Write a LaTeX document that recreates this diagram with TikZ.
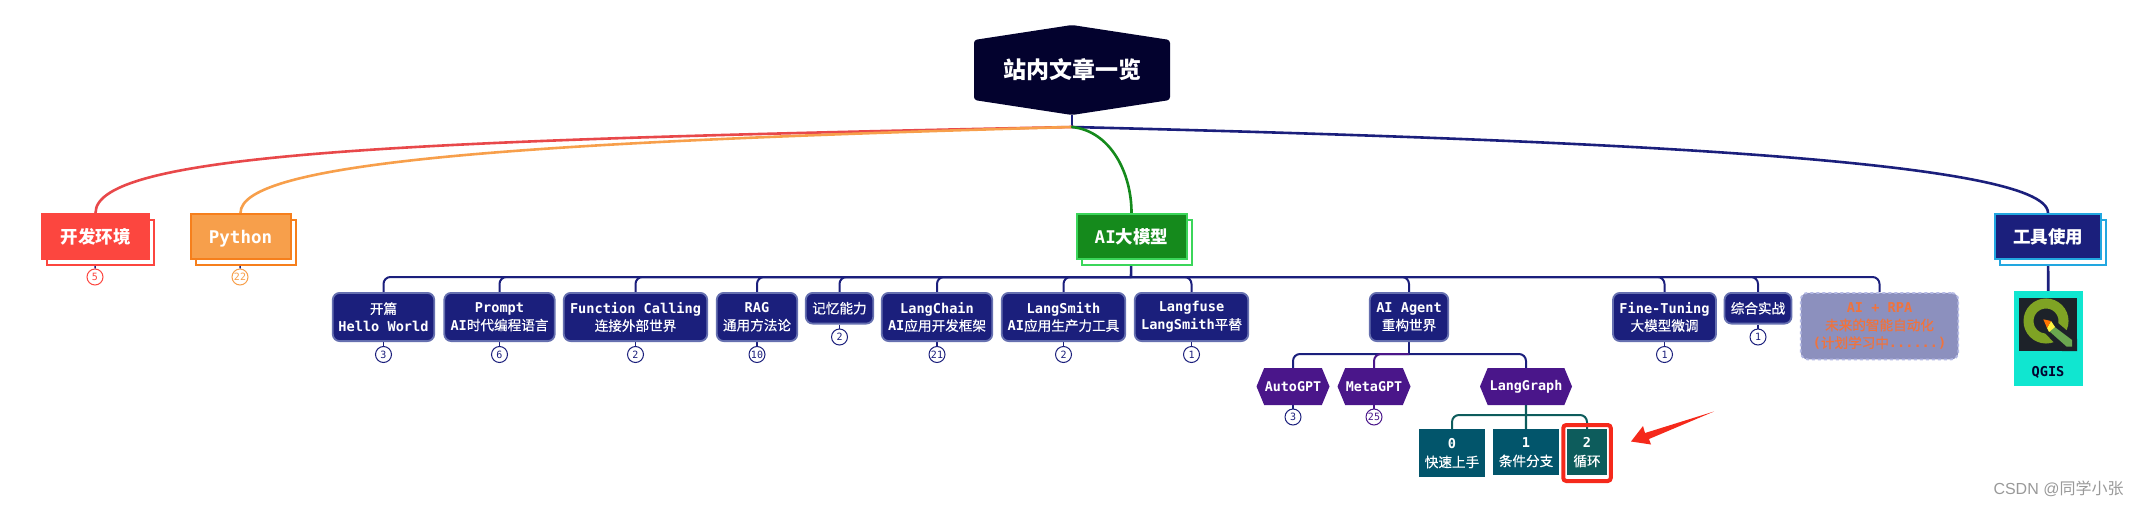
\documentclass[tikz,border=0pt]{standalone}
\usepackage{fontspec}
\setmainfont{DejaVu Sans Mono}
\newfontfamily\cjk{Noto Sans CJK SC}
\newfontfamily\cjkmid{Noto Sans CJK SC}[FakeBold=0.5]
\newfontfamily\marksans{Liberation Sans}
\usepackage{tikz}
\usetikzlibrary{
  positioning,
  shadows,
  backgrounds,
  shapes.symbols
}
\newcommand{\zh}[1]{{\cjkmid\mdseries #1}}
\newcommand{\zhb}[1]{{\cjk\bfseries #1}}

\definecolor{rootink}{HTML}{03022E}
\definecolor{navy}{HTML}{1B1F7C}
\definecolor{navyedge}{HTML}{6670B0}
\definecolor{hotred}{HTML}{FC463F}
\definecolor{curvered}{HTML}{E8484A}
\definecolor{ripe}{HTML}{F79F4B}
\definecolor{ripeedge}{HTML}{F67F1C}
\definecolor{leaf}{HTML}{158A1C}
\definecolor{leafedge}{HTML}{3BD65A}
\definecolor{sky}{HTML}{22A7E0}
\definecolor{purplish}{HTML}{4A168A}
\definecolor{tealbox}{HTML}{02556B}
\definecolor{tealline}{HTML}{0D5C5C}
\definecolor{qgisbg}{HTML}{10E6D0}
\definecolor{alarm}{HTML}{F5291B}
\definecolor{planfill}{HTML}{8C90BE}
\definecolor{planedge}{HTML}{B4B9E4}
\definecolor{planink}{HTML}{F0733C}
\definecolor{qgisdark}{HTML}{1D2229}
\definecolor{qgisring}{HTML}{7FA324}
\definecolor{qgispen}{HTML}{6BA84F}

\tikzset{
  topic/.style n args={3}{
    minimum width=#1, minimum height=45pt, inner sep=0pt, text=white,
    text height=15pt, text depth=2pt,
    font=\fontsize{17.5}{20}\selectfont\bfseries, fill=#2, draw=#3, line width=2pt,
    copy shadow={shadow xshift=5pt, shadow yshift=-6pt, fill=white, draw=#3, line width=2pt}
  },
  subject/.style={
    anchor=north, inner sep=0pt, align=center, text=white,
    font=\fontsize{13.6}{17.7}\selectfont\bfseries,
    fill=navy, draw=navyedge, line width=1.8pt, rounded corners=7pt
  },
  badge/.style={
    circle, minimum size=16pt, inner sep=0pt, fill=white, draw=#1, line width=1pt,
    text=#1, font=\fontsize{10}{10}\selectfont
  },
  badge/.default=navy,
  hexa/.style={
    signal, signal to=west and east, signal pointer angle=135, inner sep=0pt,
    minimum height=37pt, text=white, fill=purplish,
    font=\fontsize{13.4}{16}\selectfont\bfseries
  },
  leafbox/.style={
    anchor=north, inner sep=0pt, align=center, text=white, fill=tealbox,
    font=\fontsize{13.6}{19}\selectfont\bfseries
  },
  trunk/.style={line width=2.6pt, line cap=round},
  twig/.style={draw=navy, line width=2pt, rounded corners=7pt},
  stem/.style={draw=navy, line width=1.5pt}
}

\begin{document}
\begin{tikzpicture}[x=1pt,y=-1pt]
  \useasboundingbox (0,0) rectangle (2143,508);

  % root
  \fill[rootink, rounded corners=3pt] (1072,25) -- (1170,40) -- (1170,100) -- (1072,115)
  -- (974,100) -- (974,40) -- cycle;
  \node[minimum width=196pt, minimum height=90pt, inner sep=0pt, text=white] (root) at (1072,70)
  {\fontsize{23}{26}\selectfont\zhb{站内文章一览}};
  \coordinate (hub) at (1072,127);

  % main topics
  \node[topic={107pt}{hotred}{hotred}] (env) at (95.5,236.5) {\zhb{开发环境}};
  \node[topic={100pt}{ripe}{ripeedge}] (py) at (240.5,236.5) {Python};
  \node[topic={110pt}{leaf}{leafedge}] (ai) at (1131.5,236.5) {AI\zhb{大模型}};
  \node[topic={106pt}{navy}{sky}] (tools) at (2048,236.5) {\zhb{工具使用}};

  \node[badge=hotred] (benv) at (95,277) {5};
  \node[badge=ripe] (bpy) at (240,277) {22};
  \coordinate (bus) at (1131,277);

  % subjects with a count under them
  \foreach \nm/\x/\w/\h/\cnt/\txt in {
      open/383.5/101.5/48.2/3/{\zh{开篇}\\Hello World},
      prompt/499.5/110.5/48.2/6/{Prompt\\AI\zh{时代编程语言}},
      func/635.5/143.5/48.2/2/{Function Calling\\\zh{连接外部世界}},
      rag/757/80.5/48.2/10/{RAG\\\zh{通用方法论}},
      memo/839.5/67.5/30.7/2/{\zh{记忆能力}},
      chain/937/110.5/48.2/21/{LangChain\\AI\zh{应用开发框架}},
      smith/1063.5/123.5/48.2/2/{LangSmith\\AI\zh{应用生产力工具}},
      fuse/1191.5/113.5/48.2/1/{Langfuse\\LangSmith\zh{平替}},
      agent/1409/78.5/48.2/0/{AI Agent\\\zh{重构世界}},
      tune/1664.5/103/48.2/1/{Fine-Tuning\\\zh{大模型微调}},
      war/1758/67/30.7/1/{\zh{综合实战}}} {
      \node[subject, minimum width=\w pt, minimum height=\h pt] (\nm) at (\x,292) {\txt};
      \ifnum\cnt>0
        \node[badge, below=4pt of \nm] (b\nm) {\cnt};
        \begin{scope}[on background layer]
          \draw[stem] (\nm) -- (b\nm);
        \end{scope}
      \fi
    }
  \node[subject, minimum width=157.5pt, minimum height=66.5pt, fill=planfill, draw=planedge, dashed,
    text=planink] (rpa) at (1879.5,292) {AI + RPA\\\zh{未来的智能自动化}\\(\zh{计划学习中}......)};

  % agent's children
  \coordinate (agentbus) at (1409,354);
  \foreach \nm/\x/\w/\txt in {auto/1293/73/AutoGPT, meta/1374/73/MetaGPT, graph/1526/92/LangGraph} {
      \node[hexa, minimum width=\w pt] (\nm) at (\x,386.5) {\txt};
    }
  \node[badge] (bauto) at (1293,417) {3};
  \node[badge=purplish] (bmeta) at (1374,417) {25};

  % LangGraph's children
  \coordinate (graphbus) at (1526,415);
  \node[leafbox, minimum width=66pt, minimum height=48pt] (quick) at (1452,429) {0\\\zh{快速上手}};
  \node[leafbox, minimum width=66pt, minimum height=46pt] (cond) at (1526,429) {1\\\zh{条件分支}};
  \node[leafbox, minimum width=40pt, minimum height=46pt, fill=tealline] (loop) at (1587,429) {2\\\zh{循环}};
  \node[draw=alarm, line width=4pt, rounded corners=3pt, inner sep=0pt, minimum width=47.5pt, minimum height=56pt]
  (picked) at (1587,453) {};

  % tool leaf
  \node[fill=qgisbg, inner sep=0pt, minimum width=69pt, minimum height=95pt] (qgis) at (2048.5,338.5) {};
  \fill[qgisdark] (2019,297.5) rectangle (2077,351);
  \draw[qgisring, line width=10pt] (2046,321) circle[radius=17.5pt];
  \fill[qgisdark] (2052,318) -- (2077,339) -- (2077,351) -- (2062,351) -- (2045,333) -- cycle;
  \fill[qgispen] (2052,325) -- (2072,340) -- (2072,346.5) -- (2066.5,346.5) -- (2049,331) -- cycle;
  \fill[yellow!75!white] (2051,321) -- (2055,327) -- (2049,332) -- (2047,328) -- cycle;
  \fill[orange!90!red] (2043.3,319.3) -- (2051,321) -- (2047,328) -- cycle;
  \node[text=rootink, font=\fontsize{13.6}{16}\selectfont\bfseries] (qgisname) at (2048,372) {QGIS};

  % connectors
  \begin{scope}[on background layer]
    \draw[stem, line width=2.6pt] (root.south) -- (hub);
    \draw[trunk, navy] (hub) .. controls (1600,140) and (2048,160) .. (tools.north);
    \draw[trunk, curvered] (hub) .. controls (420,140) and (95,152) .. (env.north);
    \draw[trunk, ripe] (hub) .. controls (520,142) and (240,162) .. (py.north);
    \draw[trunk, leaf] (hub) .. controls (1110,131) and (1131.5,172) .. (ai.north);

    \draw[stem] (env) -- (benv);
    \draw[stem] (py) -- (bpy);
    \draw[stem, line width=2.6pt] (ai) -- (bus);
    \draw[stem, line width=2.6pt] (tools) -- (qgis);
    \foreach \nm in {open,prompt,func,rag,memo,chain,smith,fuse,agent,tune,war,rpa} {
        \draw[twig] (bus) -| (\nm.north);
      }

    \draw[stem, line width=2.6pt] (agent) -- (agentbus);
    \draw[twig] (agentbus) -| (auto.north);
    \draw[twig, purplish] (agentbus) -| (meta.north);
    \draw[twig] (agentbus) -| (graph.north);
    \draw[stem] (auto) -- (bauto);
    \draw[stem, purplish] (meta) -- (bmeta);

    \draw[stem, tealline, line width=2.2pt] (graph) -- (cond);
    \draw[twig, tealline] (graphbus) -| (quick.north);
    \draw[twig, tealline] (graphbus) -| (loop.north);
  \end{scope}

  % pointer at the highlighted box
  \fill[alarm] (1714,411.5) -- (1649,439) -- (1651,444.5) -- (1631,441.5) -- (1643,426) -- (1645,433) -- cycle;

  \node[text=black!40, font=\fontsize{16}{18}\selectfont] (stamp) at (2058.5,489) {\marksans CSDN @{\cjk 同学小张}};
\end{tikzpicture}
\end{document}
